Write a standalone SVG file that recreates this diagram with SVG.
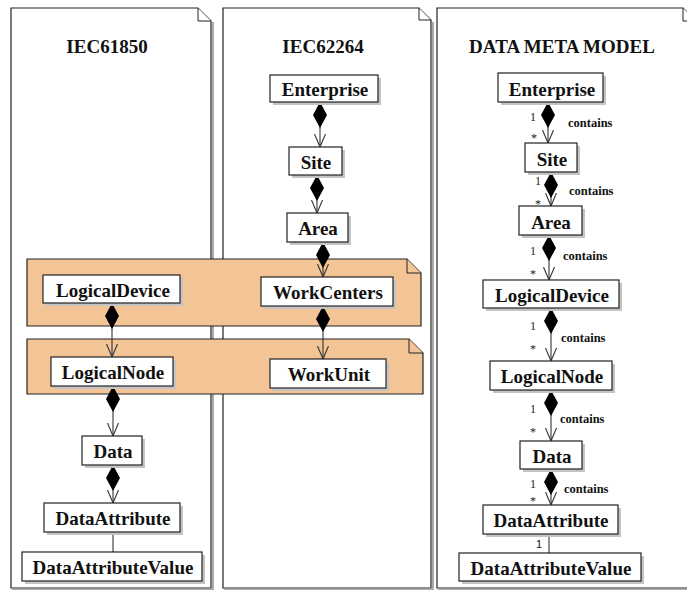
<svg xmlns="http://www.w3.org/2000/svg" width="687" height="590" viewBox="0 0 687 590">
<defs>
<style>
.panel{fill:#fff;stroke:#222;stroke-width:1.2}
.pshadow{fill:none;stroke:#aaa;stroke-width:2}
.fold{fill:#fff;stroke:#222;stroke-width:1}
.opanel{fill:#f2c496;stroke:#222;stroke-width:1.2}
.ofold{fill:#f2c496;stroke:#222;stroke-width:1}
.box{fill:#fff;stroke:#222;stroke-width:1.2}
.shadow{fill:#c4c4c4}
.title{font-family:"Liberation Serif",serif;font-weight:bold;font-size:19px;text-anchor:middle;fill:#111}
.ntext{font-family:"Liberation Serif",serif;font-weight:bold;font-size:19px;text-anchor:middle;fill:#111}
.conn{fill:none;stroke:#333;stroke-width:1.1}
.comp{marker-start:url(#diamond);marker-end:url(#arrow)}
.mult{font-family:"Liberation Serif",serif;font-size:12px;text-anchor:middle;fill:#222}
.role{font-family:"Liberation Serif",serif;font-weight:bold;font-size:12.5px;fill:#111}
.sans{font-family:"Liberation Sans",sans-serif;font-size:11px;text-anchor:middle;fill:#111}
</style>
<marker id="diamond" markerUnits="userSpaceOnUse" viewBox="0 0 26 14" refX="0" refY="7" markerWidth="26" markerHeight="14" orient="auto">
<path d="M0,7 L13,0 L26,7 L13,14 Z" fill="#000"/>
</marker>
<marker id="arrow" markerUnits="userSpaceOnUse" viewBox="0 0 14 12" refX="13" refY="6" markerWidth="14" markerHeight="12" orient="auto">
<path d="M0,0.5 L13,6 L0,11.5" fill="none" stroke="#333" stroke-width="1.1"/>
</marker>
</defs>

<g id="panels">
<path class="pshadow" d="M213,22 V590 M12,590 H213"/>
<path class="panel" d="M11,8 H198 L211,21 V588 H11 Z"/>
<path class="fold" d="M198,8 V21 H211"/>
<text class="title" x="107" y="53">IEC61850</text>
<path class="pshadow" d="M433,22 V590 M224,590 H433"/>
<path class="panel" d="M223,8 H419 L431,20 V588 H223 Z"/>
<path class="fold" d="M419,8 V20 H431"/>
<text class="title" x="323" y="53">IEC62264</text>
<path class="pshadow" d="M438,590 H700"/>
<path class="panel" d="M437,8 H683 L696,21 V588 H437 Z"/>
<path class="fold" d="M683,8 V21 H696"/>
<text class="title" x="562" y="53">DATA META MODEL</text>
</g>

<g id="groups">
<path class="opanel" d="M27,259 H407 L421,273 V326 H27 Z"/>
<path class="ofold" d="M407,259 V273 H421"/>
<path class="opanel" d="M27,339 H409 L423,353 V394 H27 Z"/>
<path class="ofold" d="M409,339 V353 H423"/>
</g>

<g id="connectors">
<path class="conn comp" d="M320,102 V147"/>
<path class="conn comp" d="M317,175 V213"/>
<path class="conn comp" d="M323,242 V277"/>
<path class="conn comp" d="M323,306 V359"/>
<path class="conn comp" d="M112,303 V357"/>
<path class="conn comp" d="M113,386 V436"/>
<path class="conn comp" d="M113,465 V503"/>
<path class="conn" d="M113,532 V552"/>
<path class="conn comp" d="M548,102 V143"/>
<path class="conn comp" d="M551,172 V206"/>
<path class="conn comp" d="M549,235 V280"/>
<path class="conn comp" d="M551,308 V361"/>
<path class="conn comp" d="M551,390 V441"/>
<path class="conn comp" d="M551,469 V505"/>
<path class="conn" d="M549,534 V553"/>
<text class="mult" x="533" y="121">1</text>
<text class="mult" x="534" y="142">*</text>
<text class="role" x="568" y="127">contains</text>
<text class="mult" x="538" y="185">1</text>
<text class="mult" x="538" y="208">*</text>
<text class="role" x="569" y="195">contains</text>
<text class="mult" x="533" y="255">1</text>
<text class="mult" x="533" y="278">*</text>
<text class="role" x="563" y="260">contains</text>
<text class="mult" x="533" y="330">1</text>
<text class="mult" x="533" y="353">*</text>
<text class="role" x="561" y="342">contains</text>
<text class="mult" x="533" y="413">1</text>
<text class="mult" x="533" y="436">*</text>
<text class="role" x="560" y="423">contains</text>
<text class="mult" x="533" y="488">1</text>
<text class="mult" x="533" y="505">*</text>
<text class="role" x="564" y="493">contains</text>
<text class="sans" x="539" y="548">1</text>
</g>

<g id="m_enterprise"><rect class="shadow" x="273" y="78" width="108" height="27"/><rect class="box" x="270" y="75" width="108" height="27"/><text class="ntext" x="325" y="96">Enterprise</text></g>
<g id="m_site"><rect class="shadow" x="292" y="150" width="53" height="28"/><rect class="box" x="289" y="147" width="53" height="28"/><text class="ntext" x="316" y="169">Site</text></g>
<g id="m_area"><rect class="shadow" x="290" y="216" width="61" height="29"/><rect class="box" x="287" y="213" width="61" height="29"/><text class="ntext" x="318" y="235">Area</text></g>
<g id="m_workcenters"><rect class="shadow" x="264" y="280" width="132" height="29"/><rect class="box" x="261" y="277" width="132" height="29"/><text class="ntext" x="328" y="299">WorkCenters</text></g>
<g id="m_workunit"><rect class="shadow" x="273" y="362" width="116" height="29"/><rect class="box" x="270" y="359" width="116" height="29"/><text class="ntext" x="329" y="381">WorkUnit</text></g>

<g id="l_logicaldevice"><rect class="shadow" x="46" y="278" width="137" height="28"/><rect class="box" x="43" y="275" width="137" height="28"/><text class="ntext" x="113" y="297">LogicalDevice</text></g>
<g id="l_logicalnode"><rect class="shadow" x="54" y="360" width="122" height="29"/><rect class="box" x="51" y="357" width="122" height="29"/><text class="ntext" x="113" y="379">LogicalNode</text></g>
<g id="l_data"><rect class="shadow" x="85" y="439" width="60" height="29"/><rect class="box" x="82" y="436" width="60" height="29"/><text class="ntext" x="113" y="458">Data</text></g>
<g id="l_dataattribute"><rect class="shadow" x="47" y="506" width="136" height="29"/><rect class="box" x="44" y="503" width="136" height="29"/><text class="ntext" x="113" y="525">DataAttribute</text></g>
<g id="l_dataattributevalue"><rect class="shadow" x="25" y="555" width="180" height="29"/><rect class="box" x="22" y="552" width="180" height="29"/><text class="ntext" x="113" y="574">DataAttributeValue</text></g>

<g id="r_enterprise"><rect class="shadow" x="501" y="76" width="105" height="29"/><rect class="box" x="498" y="73" width="105" height="29"/><text class="ntext" x="552" y="96">Enterprise</text></g>
<g id="r_site"><rect class="shadow" x="528" y="146" width="52" height="29"/><rect class="box" x="525" y="143" width="52" height="29"/><text class="ntext" x="552" y="166">Site</text></g>
<g id="r_area"><rect class="shadow" x="522" y="209" width="63" height="29"/><rect class="box" x="519" y="206" width="63" height="29"/><text class="ntext" x="551" y="229">Area</text></g>
<g id="r_logicaldevice"><rect class="shadow" x="486" y="283" width="136" height="28"/><rect class="box" x="483" y="280" width="136" height="28"/><text class="ntext" x="552" y="302">LogicalDevice</text></g>
<g id="r_logicalnode"><rect class="shadow" x="493" y="364" width="122" height="29"/><rect class="box" x="490" y="361" width="122" height="29"/><text class="ntext" x="552" y="383">LogicalNode</text></g>
<g id="r_data"><rect class="shadow" x="523" y="444" width="62" height="28"/><rect class="box" x="520" y="441" width="62" height="28"/><text class="ntext" x="552" y="463">Data</text></g>
<g id="r_dataattribute"><rect class="shadow" x="486" y="508" width="135" height="29"/><rect class="box" x="483" y="505" width="135" height="29"/><text class="ntext" x="551" y="527">DataAttribute</text></g>
<g id="r_dataattributevalue"><rect class="shadow" x="462" y="556" width="182" height="28"/><rect class="box" x="459" y="553" width="182" height="28"/><text class="ntext" x="551" y="575">DataAttributeValue</text></g>
</svg>
